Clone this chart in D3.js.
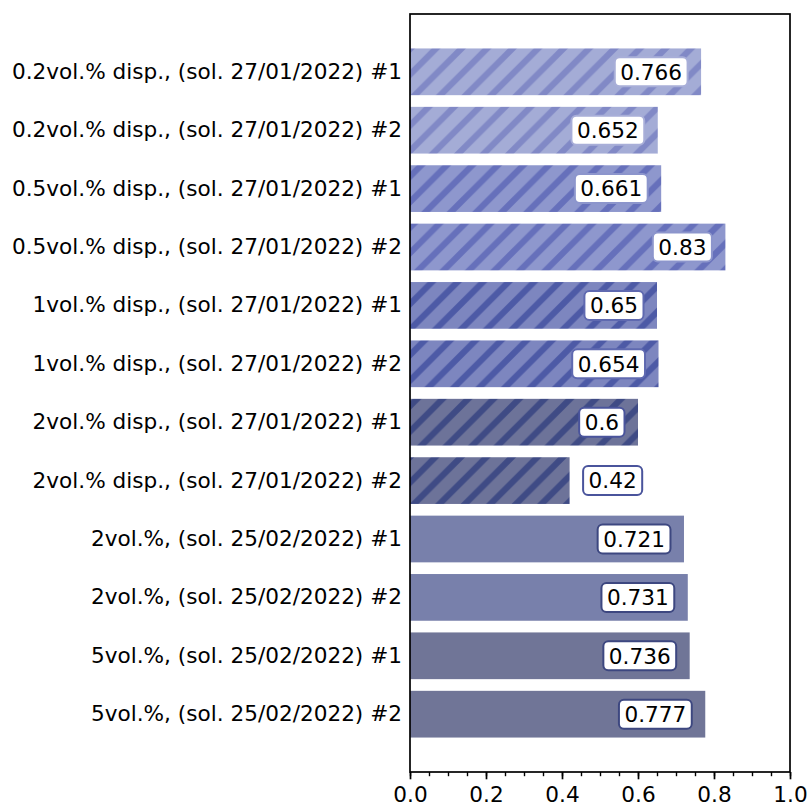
<!DOCTYPE html>
<html>
<head>
<meta charset="utf-8">
<script src="https://cdn.jsdelivr.net/npm/d3@7"></script>
<style>
  html, body { margin: 0; padding: 0; background: #fff; }
  svg { display: block; font-family: "DejaVu Sans", sans-serif; }
</style>
</head>
<body>
<svg id="chart" width="807" height="807"></svg>
<script>
// ---- data ----
const categories = [
  "0.2vol.% disp., (sol. 27/01/2022) #1",
  "0.2vol.% disp., (sol. 27/01/2022) #2",
  "0.5vol.% disp., (sol. 27/01/2022) #1",
  "0.5vol.% disp., (sol. 27/01/2022) #2",
  "1vol.% disp., (sol. 27/01/2022) #1",
  "1vol.% disp., (sol. 27/01/2022) #2",
  "2vol.% disp., (sol. 27/01/2022) #1",
  "2vol.% disp., (sol. 27/01/2022) #2",
  "2vol.%, (sol. 25/02/2022) #1",
  "2vol.%, (sol. 25/02/2022) #2",
  "5vol.%, (sol. 25/02/2022) #1",
  "5vol.%, (sol. 25/02/2022) #2"
];
const values = [0.766, 0.652, 0.661, 0.83, 0.65, 0.654, 0.6, 0.42, 0.721, 0.731, 0.736, 0.777];
const groups = ["d02", "d02", "d05", "d05", "d1", "d1", "d2", "d2", "s2", "s2", "s5", "s5"];
const xTicks = [0, 0.2, 0.4, 0.6, 0.8, 1.0];
const xTickLabels = ["0.0", "0.2", "0.4", "0.6", "0.8", "1.0"];
const xMinorTicks = d3.range(0, 1.0001, 0.05).map(v => +v.toFixed(2));

// ---- styles ----
const groupStyle = {
  d02: { fill: "#a4acd6", hatch: "#8189c6", edge: "#a8aed8" },
  d05: { fill: "#8e97cd", hatch: "#6670bb", edge: "#8c95cc" },
  d1:  { fill: "#7d86bf", hatch: "#4d5aa6", edge: "#5f69b0" },
  d2:  { fill: "#6d7399", hatch: "#3f4b85", edge: "#4a549c" },
  s2:  { fill: "#7880ab", hatch: null,      edge: "#3d4780" },
  s5:  { fill: "#707597", hatch: null,      edge: "#3d4780" }
};

const plot = { left: 410, right: 790, top: 14, bottom: 772 };
const fontSize = 21.6;

const svg = d3.select("#chart");

const x = d3.scaleLinear().domain([0, 1]).range([plot.left, plot.right]);
const y = d3.scaleBand().domain(categories).range([plot.top, plot.bottom])
  .paddingInner(0.2).paddingOuter(0.59);

// hatch patterns
const defs = svg.append("defs");
const P = 25.5;
Object.entries(groupStyle).forEach(([k, s]) => {
  if (!s.hatch) return;
  const pat = defs.append("pattern")
    .attr("id", "hatch-" + k)
    .attr("patternUnits", "userSpaceOnUse")
    .attr("width", P).attr("height", P);
  pat.append("rect").attr("width", P).attr("height", P).attr("fill", s.fill);
  pat.append("path")
    .attr("d", `M${-P / 2},${P / 2} L${P / 2},${-P / 2} M0,${P} L${P},0 M${P / 2},${P * 1.5} L${P * 1.5},${P / 2}`)
    .attr("stroke", s.hatch).attr("stroke-width", 6.2).attr("fill", "none");
});

// bars
svg.append("g").selectAll("rect")
  .data(categories.map((c, i) => ({ c, v: values[i], g: groups[i] })))
  .join("rect")
  .attr("x", x(0))
  .attr("y", d => y(d.c))
  .attr("width", d => x(d.v) - x(0))
  .attr("height", y.bandwidth())
  .attr("fill", d => groupStyle[d.g].hatch ? `url(#hatch-${d.g})` : groupStyle[d.g].fill);

// value labels
const lab = svg.append("g").selectAll("g")
  .data(categories.map((c, i) => ({ c, v: values[i], g: groups[i] })))
  .join("g");
lab.each(function (d) {
  const g = d3.select(this);
  const inside = d.v >= 0.5;
  const tx = inside ? x(d.v - 0.05) : x(d.v + 0.05);
  const cy = y(d.c) + y.bandwidth() / 2;
  const rect = g.append("rect");
  const t = g.append("text")
    .attr("x", tx).attr("y", cy)
    .attr("text-anchor", inside ? "end" : "start")
    .attr("dy", "0.36em")
    .attr("font-size", fontSize)
    .attr("fill", "#000")
    .text(String(d.v));
  const bb = t.node().getBBox();
  const pad = 5.5;
  rect.attr("x", bb.x - pad).attr("y", cy - 14.5)
    .attr("width", bb.width + 2 * pad).attr("height", 29)
    .attr("rx", 5).attr("ry", 5)
    .attr("fill", "#fff")
    .attr("stroke", groupStyle[d.g].edge)
    .attr("stroke-width", 2);
});

// y labels (no ticks)
const yAxis = svg.append("g")
  .attr("transform", `translate(${plot.left},0)`)
  .call(d3.axisLeft(y).tickSize(0).tickPadding(8));
yAxis.select(".domain").remove();
yAxis.selectAll("text").attr("font-size", fontSize).attr("font-family", "DejaVu Sans").attr("fill", "#000");

// x axis minor ticks
const xMinor = svg.append("g")
  .attr("transform", `translate(0,${plot.bottom})`)
  .call(d3.axisBottom(x).tickValues(xMinorTicks).tickSize(4.2).tickFormat(""));
xMinor.select(".domain").remove();
xMinor.selectAll("line").attr("stroke", "#000").attr("stroke-width", 1.4);

// x axis major
const xAxis = svg.append("g")
  .attr("transform", `translate(0,${plot.bottom})`)
  .call(d3.axisBottom(x).tickValues(xTicks).tickSize(7.3).tickPadding(7)
    .tickFormat((d, i) => xTickLabels[i]));
xAxis.select(".domain").remove();
xAxis.selectAll("line").attr("stroke", "#000").attr("stroke-width", 1.7);
xAxis.selectAll("text").attr("font-size", fontSize).attr("font-family", "DejaVu Sans").attr("fill", "#000");

// frame
svg.append("rect")
  .attr("x", plot.left).attr("y", plot.top)
  .attr("width", plot.right - plot.left).attr("height", plot.bottom - plot.top)
  .attr("fill", "none").attr("stroke", "#000").attr("stroke-width", 1.7);
</script>
</body>
</html>
